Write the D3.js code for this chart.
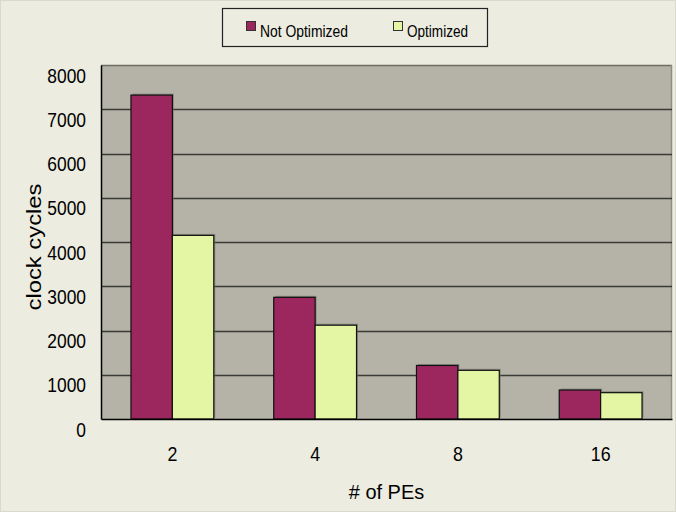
<!DOCTYPE html>
<html>
<head>
<meta charset="utf-8">
<script src="https://cdn.jsdelivr.net/npm/d3@7"></script>
<style>
  html, body { margin: 0; padding: 0; background: #ECECE0; }
  svg { display: block; }
  text { font-family: "Liberation Sans", Arial, sans-serif; fill: #000; }
</style>
</head>
<body>
<script>
// Clock cycles needed for each number of processing elements
const categories = ["2", "4", "8", "16"];
const seriesNames = ["Not Optimized", "Optimized"];
const notOptimized = [7320, 2750, 1210, 655];
const optimized = [4150, 2120, 1100, 595];
const yTicks = [0, 1000, 2000, 3000, 4000, 5000, 6000, 7000, 8000];

const colors = { "Not Optimized": "#9C265E", "Optimized": "#E4F6A3" };

const W = 676, H = 512;
const plot = { left: 101, right: 672, top: 65, bottom: 419 };

// squeeze text horizontally to a narrower face
function condense(sel, factor) {
  sel.each(function () {
    const len = this.getComputedTextLength();
    d3.select(this).attr("textLength", len * factor).attr("lengthAdjust", "spacingAndGlyphs");
  });
}

const svg = d3.select("body").append("svg")
  .attr("width", W).attr("height", H);

// page background with thin frame
svg.append("rect").attr("x", 0.5).attr("y", 0.5)
  .attr("width", W - 1).attr("height", H - 1)
  .attr("fill", "#ECECE0").attr("stroke", "#DADACC");

const x = d3.scaleBand().domain(categories)
  .range([plot.left, plot.right]).paddingInner(0.42).paddingOuter(0.21);
const x1 = d3.scaleBand().domain(seriesNames).range([0, x.bandwidth()]);
const y = d3.scaleLinear().domain([0, 8000]).range([plot.bottom, plot.top]);

// plot area
svg.append("rect")
  .attr("x", plot.left).attr("y", plot.top)
  .attr("width", plot.right - plot.left).attr("height", plot.bottom - plot.top)
  .attr("fill", "#B5B3A8");
// soft edges of the plot area
svg.append("line").attr("x1", plot.left).attr("x2", plot.right)
  .attr("y1", plot.top + 0.5).attr("y2", plot.top + 0.5)
  .attr("stroke", "#6C6B62").attr("stroke-width", 1.5);
svg.append("line").attr("x1", plot.right - 0.5).attr("x2", plot.right - 0.5)
  .attr("y1", plot.top).attr("y2", plot.bottom)
  .attr("stroke", "#8E8D84").attr("stroke-width", 1.5);

// gridlines
svg.append("g")
  .selectAll("line")
  .data(yTicks.filter(d => d > 0 && d < 8000))
  .join("line")
  .attr("x1", plot.left).attr("x2", plot.right)
  .attr("y1", d => Math.round(y(d)) + 0.5).attr("y2", d => Math.round(y(d)) + 0.5)
  .attr("stroke", "#3A3A36").attr("stroke-width", 1.3);

// bars
const rows = categories.map((c, i) => ({
  cat: c,
  values: [
    { name: seriesNames[0], value: notOptimized[i] },
    { name: seriesNames[1], value: optimized[i] }
  ]
}));

const groups = svg.append("g").selectAll("g")
  .data(rows).join("g")
  .attr("transform", d => `translate(${x(d.cat)},0)`);

groups.selectAll("rect.shadow")
  .data(d => d.values).join("rect")
  .attr("class", "shadow")
  .attr("x", d => x1(d.name) + 1.5)
  .attr("y", d => y(d.value) - 1.5)
  .attr("width", x1.bandwidth())
  .attr("height", d => y(0) - y(d.value))
  .attr("fill", "#6F6E66").attr("opacity", 0.6);

groups.selectAll("rect.bar")
  .data(d => d.values).join("rect")
  .attr("class", "bar")
  .attr("x", d => x1(d.name))
  .attr("y", d => y(d.value))
  .attr("width", x1.bandwidth())
  .attr("height", d => y(0) - y(d.value))
  .attr("fill", d => colors[d.name])
  .attr("stroke", "#111").attr("stroke-width", 1.2);

// axes
const yAxis = svg.append("g")
  .attr("transform", `translate(${plot.left},0)`)
  .call(d3.axisLeft(y).tickValues(yTicks).tickFormat(d3.format("d"))
    .tickSize(0).tickPadding(15));
yAxis.select(".domain").attr("stroke", "#000").attr("stroke-width", 1.5);
yAxis.selectAll("text")
  .attr("dy", "0.85em")
  .style("font-size", "20px")
  .call(condense, 0.87);

const xAxis = svg.append("g")
  .attr("transform", `translate(0,${plot.bottom})`)
  .call(d3.axisBottom(x).tickSize(0).tickPadding(27));
xAxis.select(".domain").attr("stroke", "#000").attr("stroke-width", 1.5);
xAxis.selectAll("text").style("font-size", "21px").call(condense, 0.85);

// axis titles
svg.append("text")
  .attr("x", (plot.left + plot.right) / 2).attr("y", 499)
  .attr("text-anchor", "middle")
  .style("font-size", "21px")
  .text("# of PEs")
  .call(condense, 0.95);

svg.append("text")
  .attr("transform", "translate(41,247) rotate(-90)")
  .attr("text-anchor", "middle")
  .attr("textLength", 127).attr("lengthAdjust", "spacingAndGlyphs")
  .style("font-size", "21px")
  .text("clock cycles");

// legend
const legend = svg.append("g");
legend.append("rect")
  .attr("x", 222.5).attr("y", 8.5).attr("width", 265).attr("height", 38)
  .attr("fill", "#ECECE0").attr("stroke", "#222").attr("stroke-width", 1.2);
const legendX = [246, 393];
const legendTextWidth = [88, 61];
const items = legend.selectAll("g.item").data(seriesNames).join("g")
  .attr("class", "item")
  .attr("transform", (d, i) => `translate(${legendX[i]},0)`);
items.append("rect")
  .attr("x", 0.5).attr("y", 21.5).attr("width", 9).attr("height", 9)
  .attr("fill", d => colors[d]).attr("stroke", "#333");
items.append("text")
  .attr("x", 14).attr("y", 37)
  .attr("textLength", (d, i) => legendTextWidth[i]).attr("lengthAdjust", "spacingAndGlyphs")
  .style("font-size", "17px")
  .text(d => d);
</script>
</body>
</html>
